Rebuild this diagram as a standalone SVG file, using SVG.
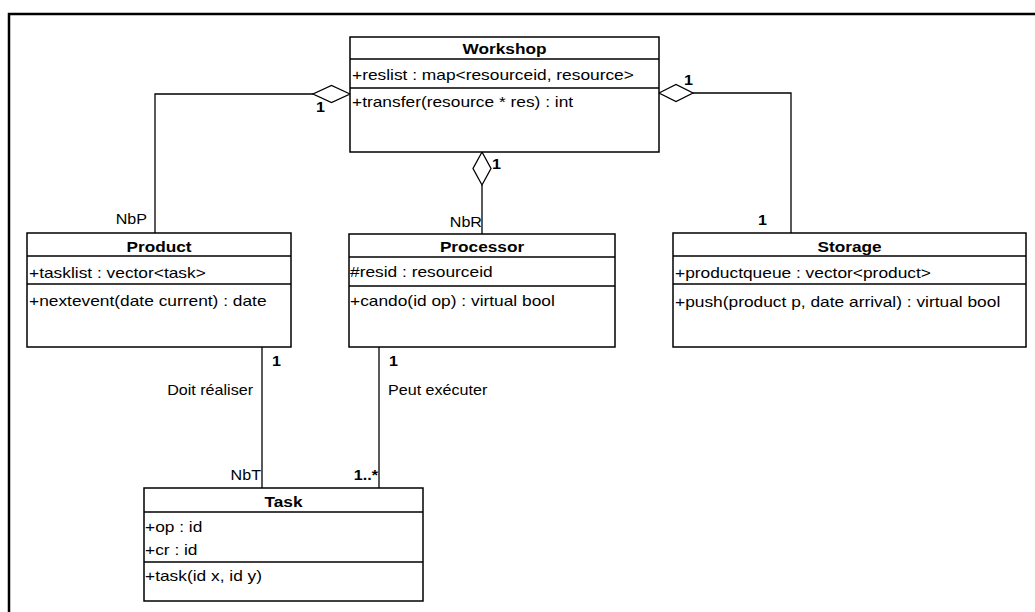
<svg xmlns="http://www.w3.org/2000/svg" width="1035" height="612" viewBox="0 0 1035 612">
<style>
.box{fill:#fff;stroke:#000;stroke-width:1.5}
.sep{stroke:#000;stroke-width:1.3;fill:none}
.con{stroke:#000;stroke-width:1.3;fill:none}
.dia{fill:#fff;stroke:#000;stroke-width:1.3}
.t{font-family:"Liberation Sans",Arial,sans-serif;font-size:14px;fill:#000}
.b{font-weight:bold;text-anchor:middle}
.l{font-family:"Liberation Sans",Arial,sans-serif;font-size:14px;fill:#000}
.e{text-anchor:end}
</style>
<rect width="1035" height="612" fill="#fff"/>
<path d="M9,612 V14 H1035" fill="none" stroke="#000" stroke-width="2.5"/>

<g id="connectors">
<polyline class="con" points="313,94 155,94 155,233"/>
<polygon class="dia" points="350,94 331.5,85.5 313,94 331.5,102.5"/>
<polyline class="con" points="693,93 791,93 791,233"/>
<polygon class="dia" points="659,93 676,84.5 693,93 676,101.5"/>
<line class="con" x1="482" y1="185" x2="482" y2="234"/>
<polygon class="dia" points="482,152 491,168.5 482,185 473,168.5"/>
<line class="con" x1="262" y1="347" x2="262" y2="488"/>
<line class="con" x1="379" y1="347" x2="379" y2="488"/>
<text class="l" font-weight="bold" transform="translate(316,112) scale(1.15,1)">1</text>
<text class="l e" transform="translate(147,224) scale(1.15,1)">NbP</text>
<text class="l" font-weight="bold" transform="translate(684,85) scale(1.15,1)">1</text>
<text class="l" font-weight="bold" transform="translate(758,225) scale(1.15,1)">1</text>
<text class="l" font-weight="bold" transform="translate(492,169) scale(1.15,1)">1</text>
<text class="l e" transform="translate(482,227) scale(1.15,1)">NbR</text>
<text class="l" font-weight="bold" transform="translate(272,366) scale(1.15,1)">1</text>
<text class="l e" transform="translate(253,395) scale(1.15,1)">Doit réaliser</text>
<text class="l e" transform="translate(261,480) scale(1.15,1)">NbT</text>
<text class="l" font-weight="bold" transform="translate(389,366) scale(1.15,1)">1</text>
<text class="l" transform="translate(388,395) scale(1.15,1)">Peut exécuter</text>
<text class="l e" font-weight="bold" transform="translate(378,480) scale(1.15,1)">1..*</text>
</g>

<g id="workshop">
<rect class="box" x="350" y="37" width="309" height="115"/>
<line class="sep" x1="350" y1="59" x2="659" y2="59"/>
<line class="sep" x1="350" y1="88" x2="659" y2="88"/>
<text class="t b" transform="translate(504.5,54) scale(1.23,1)">Workshop</text>
<text class="t" transform="translate(352,80) scale(1.24,1)">+reslist : map&lt;resourceid, resource&gt;</text>
<text class="t" transform="translate(352,107) scale(1.24,1)">+transfer(resource * res) : int</text>
</g>

<g id="product">
<rect class="box" x="27" y="233" width="264" height="114"/>
<line class="sep" x1="27" y1="256" x2="291" y2="256"/>
<line class="sep" x1="27" y1="284" x2="291" y2="284"/>
<text class="t b" transform="translate(159,252) scale(1.23,1)">Product</text>
<text class="t" transform="translate(29,278) scale(1.24,1)">+tasklist : vector&lt;task&gt;</text>
<text class="t" transform="translate(29,306) scale(1.24,1)">+nextevent(date current) : date</text>
</g>

<g id="processor">
<rect class="box" x="349" y="234" width="266" height="113"/>
<line class="sep" x1="349" y1="257" x2="615" y2="257"/>
<line class="sep" x1="349" y1="286" x2="615" y2="286"/>
<text class="t b" transform="translate(482,252) scale(1.23,1)">Processor</text>
<text class="t" transform="translate(350,277) scale(1.24,1)">#resid : resourceid</text>
<text class="t" transform="translate(350,306) scale(1.24,1)">+cando(id op) : virtual bool</text>
</g>

<g id="storage">
<rect class="box" x="673" y="233" width="353" height="114"/>
<line class="sep" x1="673" y1="256" x2="1026" y2="256"/>
<line class="sep" x1="673" y1="284" x2="1026" y2="284"/>
<text class="t b" transform="translate(849.5,252) scale(1.23,1)">Storage</text>
<text class="t" transform="translate(675,278) scale(1.24,1)">+productqueue : vector&lt;product&gt;</text>
<text class="t" transform="translate(675,307) scale(1.24,1)">+push(product p, date arrival) : virtual bool</text>
</g>

<g id="task">
<rect class="box" x="144" y="488" width="279" height="113"/>
<line class="sep" x1="144" y1="512" x2="423" y2="512"/>
<line class="sep" x1="144" y1="562" x2="423" y2="562"/>
<text class="t b" transform="translate(283.5,507) scale(1.23,1)">Task</text>
<text class="t" transform="translate(145,532) scale(1.24,1)">+op : id</text>
<text class="t" transform="translate(145,555) scale(1.24,1)">+cr : id</text>
<text class="t" transform="translate(145,581) scale(1.24,1)">+task(id x, id y)</text>
</g>
</svg>
